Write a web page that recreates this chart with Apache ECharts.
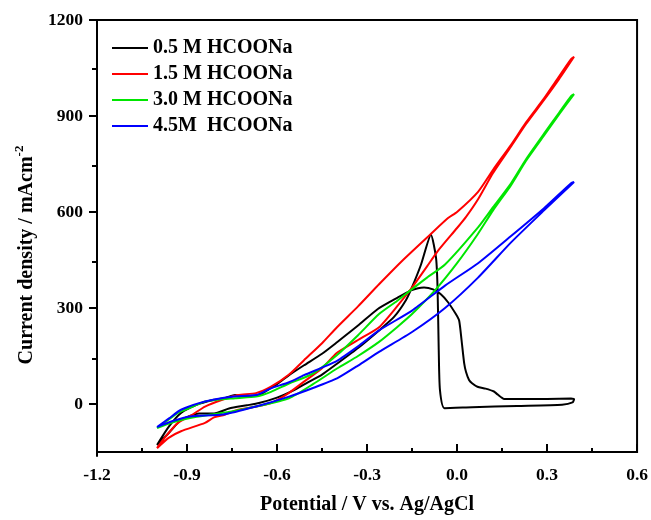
<!DOCTYPE html>
<html>
<head>
<meta charset="UTF-8">
<title>CV HCOONa</title>
<script src="https://cdn.jsdelivr.net/npm/echarts@6/dist/echarts.min.js"></script>
</head>
<body style="margin:0">
<div id="cv" style="width:651px;height:520px;"></div>
<script type="text/javascript">
// potential (V vs Ag/AgCl), current density (mA cm-2) pairs, one closed CV loop per series
var black05 = [
  [-1.00,-128],[-0.96,-90],[-0.92,-50],[-0.86,-30],[-0.81,-30],[-0.76,-14],[-0.70,-4],[-0.66,3],
  [-0.60,20],[-0.55,40],[-0.50,66],[-0.45,92],[-0.40,126],[-0.33,175],[-0.26,230],[-0.21,272],
  [-0.17,325],[-0.15,365],[-0.12,436],[-0.087,529],[-0.070,457],[-0.065,364],[-0.061,168],
  [-0.057,44],[-0.042,-13],[0.05,-10],[0.20,-6],[0.35,-2],[0.385,5],[0.39,15],[0.38,17],
  [0.30,16],[0.157,16],[0.135,30],[0.123,39],[0.095,48],[0.068,54],[0.05,65],[0.04,75],
  [0.03,100],[0.024,126],[0.015,200],[0.007,261],[-0.004,281],[-0.03,318],[-0.054,343],
  [-0.08,358],[-0.11,364],[-0.13,362],[-0.153,355],[-0.197,333],[-0.264,297],[-0.33,245],
  [-0.40,193],[-0.45,157],[-0.51,121],[-0.56,90],[-0.60,62],[-0.62,50],[-0.66,28],[-0.69,25],
  [-0.71,23],[-0.74,28],[-0.77,20],[-0.81,13],[-0.87,-3],[-0.92,-28],[-0.96,-70],[-1.00,-128]
];
var red15 = [
  [-1.00,-138],[-0.96,-105],[-0.92,-85],[-0.84,-59],[-0.81,-42],[-0.78,-35],[-0.73,-18],
  [-0.67,-8],[-0.62,3],[-0.56,35],[-0.51,70],[-0.45,112],[-0.40,160],[-0.33,200],[-0.26,240],
  [-0.20,305],[-0.15,364],[-0.10,430],[-0.065,477],[0.0,550],[0.03,585],[0.07,640],[0.12,722],
  [0.18,805],[0.23,875],[0.29,950],[0.34,1015],[0.39,1085],
  [0.38,1078],[0.33,1010],[0.29,955],[0.23,880],[0.18,810],[0.12,732],[0.07,663],[0.0,600],
  [-0.03,581],[-0.09,529],[-0.18,450],[-0.26,374],[-0.33,305],[-0.40,240],[-0.45,190],
  [-0.51,137],[-0.56,92],[-0.62,54],[-0.67,34],[-0.73,28],[-0.78,14],[-0.84,-8],[-0.88,-32],
  [-0.93,-59],[-0.97,-100],[-1.00,-138]
];
var green30 = [
  [-1.00,-75],[-0.95,-58],[-0.89,-44],[-0.82,-33],[-0.75,-23],[-0.67,-8],[-0.56,18],[-0.48,62],
  [-0.40,111],[-0.33,150],[-0.26,194],[-0.20,240],[-0.15,281],[-0.07,359],[0.0,440],[0.07,532],
  [0.12,605],[0.18,684],[0.23,760],[0.29,839],[0.34,905],[0.39,968],
  [0.38,962],[0.34,910],[0.29,845],[0.23,765],[0.18,690],[0.12,615],[0.07,552],
  [-0.04,436],[-0.10,395],[-0.15,359],[-0.20,322],[-0.26,281],[-0.33,215],[-0.40,153],
  [-0.48,95],[-0.56,64],[-0.62,38],[-0.67,23],[-0.74,18],[-0.84,8],[-0.88,-8],[-0.93,-28],
  [-0.97,-55],[-1.00,-75]
];
var blue45 = [
  [-1.00,-72],[-0.95,-54],[-0.89,-39],[-0.78,-33],[-0.67,-8],[-0.56,23],[-0.48,50],[-0.40,80],
  [-0.33,120],[-0.26,163],[-0.15,225],[-0.04,300],[0.07,395],[0.18,505],[0.29,605],[0.39,694],
  [0.38,690],[0.29,612],[0.18,525],[0.07,440],[-0.04,370],[-0.15,292],[-0.26,230],[-0.33,180],
  [-0.40,135],[-0.51,90],[-0.56,68],[-0.62,49],[-0.67,28],[-0.75,23],[-0.84,8],[-0.92,-18],
  [-0.96,-45],[-1.00,-72]
];
var seriesNames = ['0.5 M HCOONa', '1.5 M HCOONa', '3.0 M HCOONa', '4.5M  HCOONa'];
var seriesColors = ['#000000', '#ff0000', '#00e600', '#0000ff'];
var seriesData = [black05, red15, green30, blue45];
var yMajor = [0, 300, 600, 900, 1200];
var yMinor = [150, 450, 750, 1050];

var font = '"Liberation Serif", "Times New Roman", serif';
var plotRect = { left: 97, right: 11, top: 20, bottom: 64 };
var chart = echarts.init(document.getElementById('cv'));

chart.setOption({
  animation: false,
  backgroundColor: '#fff',
  grid: [
    Object.assign({ show: true, borderColor: '#000', borderWidth: 2 }, plotRect),
    // twin grid, only used for the short minor ticks of the y axis
    Object.assign({ show: false }, plotRect)
  ],
  legend: {
    orient: 'vertical',
    left: 107, top: 33,
    icon: 'rect',
    itemWidth: 36, itemHeight: 2, itemGap: 6,
    textStyle: { fontFamily: font, fontWeight: 'bold', fontSize: 20, color: '#000' },
    data: seriesNames
  },
  xAxis: [{
    type: 'value',
    min: -1.2, max: 0.6, interval: 0.3,
    name: 'Potential / V vs. Ag/AgCl',
    nameLocation: 'middle', nameGap: 43,
    nameTextStyle: { fontFamily: font, fontWeight: 'bold', fontSize: 20, color: '#000' },
    axisLine: { onZero: false, lineStyle: { color: '#000', width: 2 } },
    axisTick: { inside: true, length: 8, lineStyle: { width: 2 } },
    minorTick: { show: true, splitNumber: 2, length: 4, lineStyle: { color: '#000', width: 2 } },
    axisLabel: {
      margin: 14, color: '#000', fontFamily: font, fontWeight: 'bold', fontSize: 17.5,
      formatter: function (v) { return v.toFixed(1); }
    },
    splitLine: { show: false }
  }, {
    type: 'value', gridIndex: 1, show: false,
    min: -1.2, max: 0.6, interval: 0.3
  }],
  yAxis: [{
    type: 'value',
    min: -150, max: 1200, interval: 150,
    name: 'Current density / mAcm{sup|-2}',
    nameLocation: 'middle', nameGap: 54,
    nameTextStyle: {
      fontFamily: font, fontWeight: 'bold', fontSize: 20, color: '#000',
      padding: [0, 38, 0, 0],
      rich: { sup: { fontFamily: font, fontWeight: 'bold', fontSize: 13, padding: [0, 0, 14, 0] } }
    },
    axisLine: { onZero: false, lineStyle: { color: '#000', width: 2 } },
    axisTick: { length: 8, customValues: yMajor, lineStyle: { width: 2 } },
    axisLabel: {
      margin: 14, color: '#000', fontFamily: font, fontWeight: 'bold', fontSize: 17.5,
      customValues: yMajor,
      formatter: function (v) { return String(v); }
    },
    splitLine: { show: false }
  }, {
    type: 'value', gridIndex: 1,
    position: 'left',
    min: -150, max: 1200, interval: 150,
    axisLine: { show: true, onZero: false, lineStyle: { color: '#000', width: 2 } },
    axisTick: { show: true, length: 5, customValues: yMinor, lineStyle: { color: '#000', width: 2 } },
    axisLabel: { show: false },
    splitLine: { show: false }
  }],
  series: seriesData.map(function (d, i) {
    return {
      name: seriesNames[i],
      type: 'line',
      data: d,
      showSymbol: false,
      symbol: 'none',
      smooth: 0.2,
      color: seriesColors[i],
      lineStyle: { width: 2, color: seriesColors[i] }
    };
  })
});
</script>
</body>
</html>
